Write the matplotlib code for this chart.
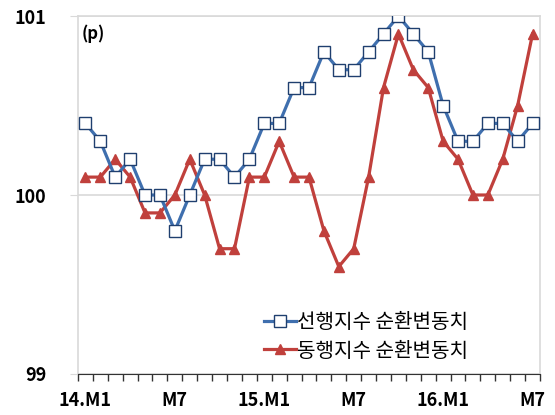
import matplotlib
matplotlib.use('Agg')
import matplotlib.pyplot as plt
import numpy as np

plt.rcParams['font.family'] = ['Noto Sans CJK KR', 'DejaVu Sans']

# 월별 라벨 (14.M1 ~ 16.M7)
months = [f'{y}.M{m}' for y in (14, 15) for m in range(1, 13)] + [f'16.M{m}' for m in range(1, 8)]
tick_labels = ['14.M1', 'M7', '15.M1', 'M7', '16.M1', 'M7']

# 선행지수 순환변동치
leading = [100.4, 100.3, 100.1, 100.2, 100.0, 100.0, 99.8, 100.0, 100.2, 100.2,
           100.1, 100.2, 100.4, 100.4, 100.6, 100.6, 100.8, 100.7, 100.7, 100.8,
           100.9, 101.0, 100.9, 100.8, 100.5, 100.3, 100.3, 100.4, 100.4, 100.3,
           100.4]
# 동행지수 순환변동치
coincident = [100.1, 100.1, 100.2, 100.1, 99.9, 99.9, 100.0, 100.2, 100.0, 99.7,
              99.7, 100.1, 100.1, 100.3, 100.1, 100.1, 99.8, 99.6, 99.7, 100.1,
              100.6, 100.9, 100.7, 100.6, 100.3, 100.2, 100.0, 100.0, 100.2, 100.5,
              100.9]

blue = '#3f6fae'
red = '#c0403c'

fig = plt.figure(figsize=(5.55, 4.15), dpi=100)
ax = fig.add_axes([0.1405, 0.0988, 0.8325, 0.8626])

x = np.arange(len(months))
ax.plot(x, leading, color=blue, lw=2.3, marker='s', ms=8, mfc='white',
        mec='#1f3f6f', mew=1.0, label='선행지수 순환변동치', zorder=3)
ax.plot(x, coincident, color=red, lw=2.3, marker='^', ms=7.5, mfc=red,
        mec=red, label='동행지수 순환변동치', zorder=2)

ax.set_xlim(-0.5, len(months) - 0.5)
ax.set_ylim(99, 101)

# x축: 구간 경계 눈금 + 6개월 간격 라벨
ax.set_xticks(np.arange(-0.5, len(months)), minor=True)
ax.set_xticks(np.arange(0, len(months), 6))
ax.set_xticklabels(tick_labels, fontsize=13, fontweight='bold')
ax.tick_params(axis='x', which='major', length=0, pad=12)
ax.tick_params(axis='x', which='minor', length=5, width=1, color='#333333', direction='out')

ax.set_yticks([99, 100, 101])
ax.set_yticklabels(['99', '100', '101'], fontsize=13, fontweight='bold')
ax.tick_params(axis='y', length=6, color='#d9d9d9', pad=17)

ax.yaxis.grid(True, color='#d9d9d9', lw=1.2)
ax.set_axisbelow(True)
for s in ('left', 'right', 'top'):
    ax.spines[s].set_color('#d9d9d9')
    ax.spines[s].set_linewidth(1.2)
ax.spines['bottom'].set_color('#333333')

ax.text(0.008, 0.975, '(p)', transform=ax.transAxes, fontsize=12,
        fontweight='bold', va='top', ha='left')

ax.legend(loc='upper left', bbox_to_anchor=(0.38, 0.20), frameon=False,
          prop={'size': 14.5, 'weight': 'medium'}, handlelength=1.6,
          handletextpad=0.05, borderpad=0, labelspacing=0.35)

fig.savefig('out.png', dpi=100)
